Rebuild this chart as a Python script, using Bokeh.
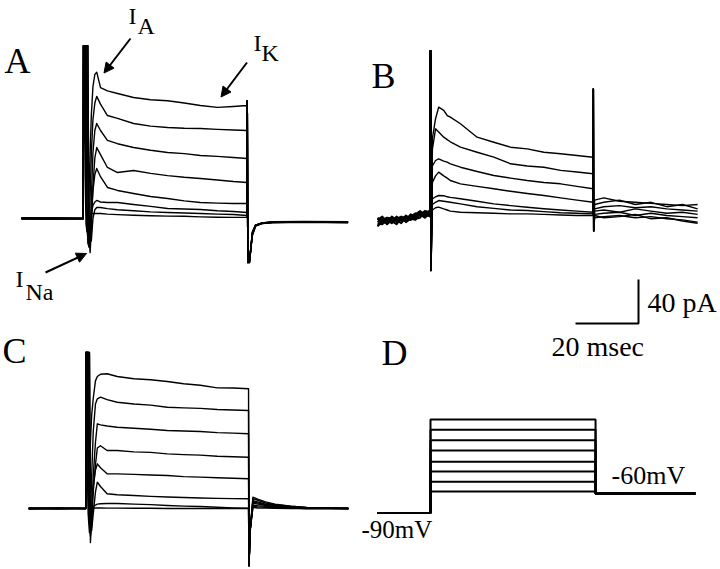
from bokeh.plotting import figure
from bokeh.models import Range1d, Label, Arrow, NormalHead
from bokeh.embed import file_html
from bokeh.resources import INLINE

# ---------------------------------------------------------------- data
# Panel A: whole-cell currents (pA) vs time (ms) from step onset
A_T = [-19.7, -10, -0.1,
       0.0, 0.1, 0.5, 0.8, 1.1, 1.4, 1.7, 2.1, 2.5, 3.0, 3.6, 4.2,
       5.4, 7.6, 10.8, 15.9, 21.3, 26.7, 32.0, 37.1, 42.5, 47.6, 51.9,
       52.0, 52.15, 52.7, 53.6, 54.6, 56.7, 60, 70, 84]
A_I1 = [0.5, 0.3, 0.4,
        157, 157, 157, 20, -8, -4, 20, 60, 95, 120, 131, 133,
        119, 116, 113.6, 110, 108, 107, 105, 102.7, 101, 101.8, 102.7,
        107, -40, -40, -14, -6.4, -4.3, -3.4, -3.0, -3.4]
A_I2 = [-0.3, -0.5, -0.2,
        157, 157, 157, 157, 10, -15, -12, 20, 60, 90, 105, 111,
        104, 93.6, 91, 86.4, 84, 82.7, 82, 81.8, 81, 80.5, 80,
        107, -38, -39, -12, -6, -4, -3.0, -2.6, -3.0]
A_I3 = [0.2, 0.6, 0.1,
        157, 157, 157, 157, 157, 20, -20, -18, 20, 60, 80, 86.4,
        80, 71, 68, 64.5, 62, 60, 59, 57.3, 56.5, 55.5, 54.5,
        107, -40, -37, -16, -7, -4.5, -3.8, -3.4, -3.8]
A_I4 = [-0.6, -0.2, -0.5,
        157, 157, 157, 157, 157, 157, -10, -31, -10, 30, 55, 64.5,
        58, 46.4, 41.8, 43.6, 41, 39, 37.5, 36.4, 35, 33.6, 32.7,
        107, -40, -40, -13, -6, -4, -3.2, -2.8, -3.2]
A_I5 = [0.8, 0.2, 0.5,
        157, 157, 157, 30, -5, -20, -26, -15, 5, 25, 40, 45.5,
        38, 28.2, 25.5, 22.7, 20, 18.2, 16, 14.5, 14, 13.6, 13.6,
        107, -39, -38, -15, -7, -4.6, -3.6, -3.2, -3.6]
A_I6 = [0.0, -0.4, 0.3,
        157, 157, 157, 157, 0, -22, -25, -12, 5, 12, 15, 16.4,
        15, 14.5, 14.5, 12.7, 11, 9.1, 8.7, 8.2, 7, 6.4, 5.5,
        107, -40, -39, -14, -6.5, -4.3, -3.4, -3.0, -3.4]
A_I7 = [-0.2, 0.4, -0.3,
        157, 157, 157, 157, 157, 157, 0, -22, -20, 0, 8, 10,
        10, 9, 8, 7, 6, 5.5, 5, 4.5, 4, 3.6, 2.7,
        107, -40, -40, -14, -6.4, -4.1, -3.3, -2.9, -3.3]
A_I8 = [0.3, -0.1, 0.0,
        157, 157, 40, -5, -12, -5, 2, 4, 4.5, 4.5, 4.5, 4.5,
        4.5, 4, 3.5, 3, 2.5, 2.2, 2, 1.5, 1.2, 1, 1,
        107, -40, -39, -13, -6, -4.2, -3.4, -3.0, -3.4]

# Panel B (first 12 samples: noisy holding current before the step)
B_T = [-16.8, -15.3, -13.8, -12.3, -10.8, -9.3, -7.8, -6.3, -4.8, -3.3, -1.8, -0.1,
       0.0, 0.15, 0.6, 1.6, 2.6, 4.2, 5.3, 6.3, 9.5, 14.8, 20.1, 25.4, 30.7, 36.0, 41.3, 46.5, 51.6,
       51.7, 51.8, 52.1, 55, 60, 65, 70, 75, 80, 84.8]
B_I1 = [-6, -3, -8, -4, -2, -5, 0, -3, -1, 1, -2, 2,
        150, -50, 70, 88, 98.5, 95.5, 90.9, 89.4, 83.4, 71.2, 66.6, 62.1, 60.6, 57.5, 56.1, 54.5, 53,
        115, -14, 14, 16, 13, 12, 11, 10, 9, 10]
B_I2 = [-2, -5, -4, -7, -3, -1, -4, 1, -2, 3, 2, 0,
        150, -50, 60, 78.8, 76, 71.2, 69, 67, 62.1, 57.5, 53, 47, 45, 43.9, 41, 39.5, 37.9,
        115, -14, 10, 12, 14, 10, 12, 8, 10, 6]
B_I3 = [-9, -7, -4, -2, -6, -3, -5, -1, 2, 0, 4, 3,
        150, -50, 45, 50, 51.5, 49.5, 48.5, 47, 43.9, 40, 36.4, 34, 31.8, 30, 28.8, 26.5, 24.3,
        115, -14, 6, 8, 9, 7, 8, 6, 5, 4]
B_I4 = [-4, -1, -6, -5, -8, -2, -1, -4, 0, 2, -1, 4,
        150, -50, 30, 36, 39.4, 36, 34, 31.8, 28.8, 26.5, 24.3, 22, 20, 18.2, 16, 14, 12.1,
        115, -14, 4, 5, 3, 6, 4, 2, 3, 1]
B_I5 = [-7, -8, -3, -6, -1, -4, -3, 0, -3, -2, 3, 1,
        150, -50, 15, 17, 18.2, 18, 17, 16.5, 15.2, 13, 10.6, 9, 7.5, 6.1, 5, 4, 3.0,
        115, -14, 1, 2, 3, 0, 2, 0, -1, -2]
B_I6 = [-3, -6, -7, -1, -4, -7, -2, -2, 1, 4, 0, 5,
        150, -50, 10, 12, 13.6, 13, 12.5, 12, 10.6, 8, 6.5, 5, 4.5, 3.5, 2.5, 2, 1.5,
        115, -14, -2, -1, 0, -2, -1, -3, -4, -6]
B_I7 = [-10, -4, -2, -3, -5, -2, -6, -3, -4, 1, 1, -1,
        150, -50, 5, 7, 7.6, 6, 5, 4, 3.0, 2.5, 2, 1.5, 1.5, 1, 0.5, 0, 0,
        115, -14, 0, -2, -1, 1, -3, -2, -5, -7]
B_NPRE = 12

# Panel C
C_T = [-18.2, -9, -0.1,
       0.0, 0.4, 0.8, 1.1, 1.4, 1.8, 2.3, 3.0, 3.6, 4.6, 6.7, 9.9,
       15.2, 20.5, 25.8, 31.0, 36.3, 41.7, 46.7, 51.6,
       51.75, 52.1, 53.0, 54.5, 57, 60, 65, 70, 83.3]
C_I1 = [0.3, 0.0, 0.2,
        141.8, 141.8, 40, 40, 60, 85, 100, 116, 120, 122, 122.5, 120,
        117.9, 117, 115.5, 113.4, 112, 109.7, 109.5, 108.8,
        -52, -20, 10.3, 8.5, 6, 4, 2.2, 1, 0]
C_I2 = [-0.3, 0.2, -0.2,
        141.8, 141.8, 141.8, 0, -10, 30, 70, 95, 99.7, 101.2, 99, 96.6,
        95, 94, 92.1, 91.5, 91, 90, 89.5, 89.1,
        -52, -22, 9, 7.5, 5, 3.5, 2, 1, 0]
C_I3 = [0.1, -0.3, 0.4,
        141.8, 141.8, 141.8, 141.8, -31, -10, 30, 60, 77, 76, 75, 73.9,
        73, 72, 70.9, 70.5, 70, 69, 68.5, 67.9,
        -50, -18, 7, 6, 4, 3, 1.5, 0.5, 0]
C_I4 = [-0.4, 0.1, 0.0,
        141.8, 141.8, 141.8, -5, -25, -15, 15, 40, 55, 57, 52.7, 52.7,
        51.5, 51, 49.7, 49, 48.5, 47.5, 47, 46.6,
        -52, -20, 6, 5, 3.5, 2.5, 1, 0.5, 0]
C_I5 = [0.5, 0.3, -0.1,
        141.8, 141.8, -10, -22, -18, 0, 20, 35, 40.6, 37, 31.5, 31.5,
        31, 30.5, 30, 29, 28.5, 28, 27.5, 27,
        -51, -20, 5, 4, 3, 2, 1, 0.3, 0]
C_I6 = [0.0, -0.2, 0.3,
        141.8, 141.8, 141.8, 141.8, 20, -20, -5, 15, 23.9, 20, 13.4, 12.5,
        11.8, 11, 10.5, 10, 9.5, 9.2, 9, 8.8,
        -52, -19, 3, 2.5, 2, 1.5, 0.5, 0, 0]
C_I7 = [-0.2, 0.4, 0.1,
        141.8, 141.8, -5, -15, -8, 0, 2, 3, 4, 4.3, 4.5, 4.5,
        4, 3.5, 2.7, 2.2, 1.8, 1.2, 0.6, 0.2,
        -52, -20, 2, 1.5, 1, 0.8, 0.3, 0, 0]
C_I8 = [0.2, 0.0, -0.3,
        141.8, 30, -8, -4, 0, 0.5, 0.5, 0.5, 0.5, 0.5, 0.3, 0.3,
        0.2, 0.2, 0, 0, 0, 0, 0, 0,
        -52, -20, 1, 0.5, 0.3, 0.2, 0, 0, 0]

# Panel D: voltage protocol (mV)
D_T = [-16.8, 0.0, 52.4, 84.1]
D_HOLD_PRE = -90
D_HOLD_POST = -60
D_STEPS = [-57, -42, -26, -11, 6, 22, 38, 54]

# Scale bar
SCALE_MS = 20
SCALE_PA = 40

# ---------------------------------------------------------------- layout
W, H = 720, 569
MS_PX = 3.15   # px per ms
PA_PX = 1.1    # px per pA
MV_PX = 0.65   # px per mV (schematic)
SERIF = "Liberation Serif"

p = figure(width=W, height=H, output_backend="svg", toolbar_location=None,
           x_range=Range1d(0, W), y_range=Range1d(H, 0),
           x_axis_location=None, y_axis_location=None, min_border=0,
           outline_line_color=None, background_fill_color="white")
p.grid.visible = False


def xr(onset_px):
    return Range1d(-onset_px / MS_PX, (W - onset_px) / MS_PX)


def yr(zero_px, upx):
    return Range1d(-(H - zero_px) / upx, zero_px / upx)


p.extra_x_ranges = {"A": xr(83), "B": xr(430), "C": xr(85.5), "D": xr(430)}
p.extra_y_ranges = {"A": yr(218, PA_PX), "B": yr(215, PA_PX),
                    "C": yr(508, PA_PX), "D": yr(493 + D_HOLD_POST * MV_PX, MV_PX)}

for tr in [A_I8, A_I7, A_I6, A_I5, A_I4, A_I3, A_I2, A_I1]:
    p.line(A_T, tr, x_range_name="A", y_range_name="A", line_color="black",
           line_width=1.4, line_join="round")
for tr in [B_I7, B_I6, B_I5, B_I4, B_I3, B_I2, B_I1]:
    p.line(B_T[:B_NPRE + 1], tr[:B_NPRE + 1], x_range_name="B", y_range_name="B",
           line_color="black", line_width=2.0, line_join="round")
    p.line(B_T[B_NPRE:], tr[B_NPRE:], x_range_name="B", y_range_name="B",
           line_color="black", line_width=1.4, line_join="round")
for tr in [C_I8, C_I7, C_I6, C_I5, C_I4, C_I3, C_I2, C_I1]:
    p.line(C_T, tr, x_range_name="C", y_range_name="C", line_color="black",
           line_width=1.4, line_join="round")
for v in D_STEPS:
    p.line([D_T[0], D_T[1], D_T[1], D_T[2], D_T[2], D_T[3]],
           [D_HOLD_PRE, D_HOLD_PRE, v, v, D_HOLD_POST, D_HOLD_POST],
           x_range_name="D", y_range_name="D", line_color="black", line_width=2)

# scale bar (corner placed under panel B)
sx = (638 - 430) / MS_PX
sy = (215 - 323) / PA_PX
p.line([sx - SCALE_MS, sx, sx], [sy, sy, sy + SCALE_PA], x_range_name="B",
       y_range_name="B", line_color="black", line_width=2)


def lab(x, y, t, size):
    p.add_layout(Label(x=x, y=y, text=t, text_font=SERIF, text_font_size=size,
                       text_color="black", text_baseline="middle",
                       text_align="left"))


lab(4, 60, "A", "36px")
lab(371, 75, "B", "36px")
lab(2, 350, "C", "36px")
lab(381, 352, "D", "36px")
lab(128, 15.5, "I", "24px")
lab(137, 25.5, "A", "24px")
lab(253, 42.5, "I", "24px")
lab(261, 52.5, "K", "24px")
lab(15, 278.5, "I", "24px")
lab(25, 291, "Na", "24px")
lab(647, 301.5, "40 pA", "28px")
lab(551, 346, "20 msec", "28px")
lab(611, 475, "-60mV", "26px")
lab(361, 528.5, "-90mV", "25px")

for (x0, y0, x1, y1) in [(130, 38, 103.5, 72.5), (246.5, 62, 220.5, 96.5), (45, 272, 86, 253)]:
    p.add_layout(Arrow(x_start=x0, y_start=y0, x_end=x1, y_end=y1, line_width=2,
                       line_color="black",
                       end=NormalHead(size=10, fill_color="black", line_color="black")))

open("out.html", "w").write(file_html(p, INLINE))
